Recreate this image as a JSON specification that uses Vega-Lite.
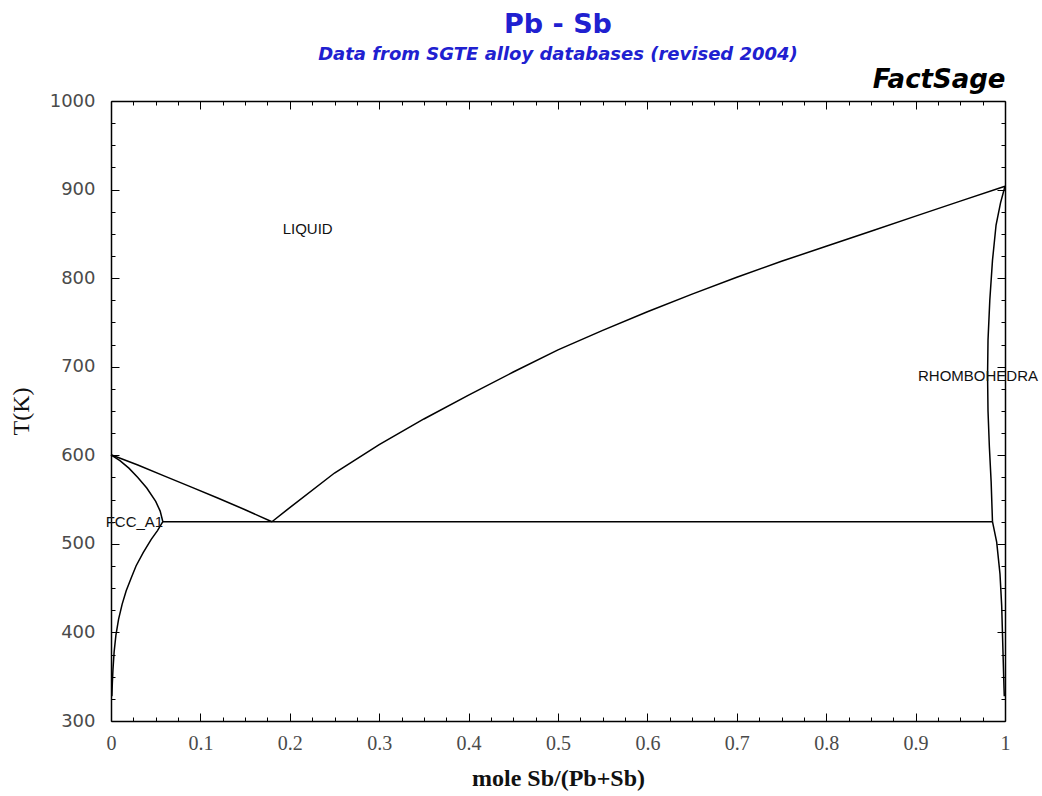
{
  "$schema": "https://vega.github.io/schema/vega-lite/v6.json",
  "width": 894,
  "height": 620,
  "autosize": {"type": "none"},
  "padding": {"left": 111, "top": 101, "right": 37, "bottom": 75},
  "background": "white",
  "title": {
    "text": "Pb - Sb",
    "subtitle": "Data from SGTE alloy databases (revised 2004)",
    "anchor": "middle",
    "frame": "group",
    "font": "DejaVu Sans",
    "fontSize": 27,
    "fontWeight": "bold",
    "color": "#2020d0",
    "subtitleFont": "DejaVu Sans",
    "subtitleFontSize": 18,
    "subtitleFontWeight": "bold",
    "subtitleFontStyle": "italic",
    "subtitleColor": "#2020d0",
    "subtitlePadding": 7,
    "offset": 2
  },
  "datasets": {
    "lines": [
      {"s": "lp", "o": 1, "x": 0, "T": 600.6},
      {"s": "lp", "o": 2, "x": 0.03, "T": 589},
      {"s": "lp", "o": 3, "x": 0.06, "T": 576.5},
      {"s": "lp", "o": 4, "x": 0.09, "T": 564},
      {"s": "lp", "o": 5, "x": 0.12, "T": 551.5},
      {"s": "lp", "o": 6, "x": 0.15, "T": 538.5},
      {"s": "lp", "o": 7, "x": 0.18, "T": 525},
      {"s": "ls", "o": 1, "x": 0.18, "T": 525},
      {"s": "ls", "o": 2, "x": 0.2, "T": 541},
      {"s": "ls", "o": 3, "x": 0.25, "T": 580},
      {"s": "ls", "o": 4, "x": 0.3, "T": 612},
      {"s": "ls", "o": 5, "x": 0.35, "T": 641},
      {"s": "ls", "o": 6, "x": 0.4, "T": 668},
      {"s": "ls", "o": 7, "x": 0.45, "T": 694},
      {"s": "ls", "o": 8, "x": 0.5, "T": 719},
      {"s": "ls", "o": 9, "x": 0.55, "T": 741},
      {"s": "ls", "o": 10, "x": 0.6, "T": 762},
      {"s": "ls", "o": 11, "x": 0.65, "T": 782},
      {"s": "ls", "o": 12, "x": 0.7, "T": 801},
      {"s": "ls", "o": 13, "x": 0.75, "T": 819},
      {"s": "ls", "o": 14, "x": 0.8, "T": 836},
      {"s": "ls", "o": 15, "x": 0.85, "T": 853},
      {"s": "ls", "o": 16, "x": 0.9, "T": 870},
      {"s": "ls", "o": 17, "x": 0.95, "T": 887},
      {"s": "ls", "o": 18, "x": 1, "T": 903.8},
      {"s": "fs", "o": 1, "x": 0, "T": 600.6},
      {"s": "fs", "o": 2, "x": 0.01, "T": 594},
      {"s": "fs", "o": 3, "x": 0.02, "T": 585.5},
      {"s": "fs", "o": 4, "x": 0.03, "T": 575},
      {"s": "fs", "o": 5, "x": 0.04, "T": 563},
      {"s": "fs", "o": 6, "x": 0.05, "T": 548},
      {"s": "fs", "o": 7, "x": 0.055, "T": 537},
      {"s": "fs", "o": 8, "x": 0.058, "T": 525},
      {"s": "fv", "o": 1, "x": 0.058, "T": 525},
      {"s": "fv", "o": 2, "x": 0.052, "T": 515},
      {"s": "fv", "o": 3, "x": 0.045, "T": 505},
      {"s": "fv", "o": 4, "x": 0.036, "T": 490},
      {"s": "fv", "o": 5, "x": 0.028, "T": 475},
      {"s": "fv", "o": 6, "x": 0.0228, "T": 462},
      {"s": "fv", "o": 7, "x": 0.017, "T": 447},
      {"s": "fv", "o": 8, "x": 0.0125, "T": 432},
      {"s": "fv", "o": 9, "x": 0.0085, "T": 415},
      {"s": "fv", "o": 10, "x": 0.0055, "T": 397},
      {"s": "fv", "o": 11, "x": 0.0035, "T": 378},
      {"s": "fv", "o": 12, "x": 0.0022, "T": 358},
      {"s": "fv", "o": 13, "x": 0.0015, "T": 343},
      {"s": "fv", "o": 14, "x": 0.001, "T": 328},
      {"s": "rs", "o": 1, "x": 1, "T": 903.8},
      {"s": "rs", "o": 2, "x": 0.995, "T": 885},
      {"s": "rs", "o": 3, "x": 0.99, "T": 860},
      {"s": "rs", "o": 4, "x": 0.986, "T": 820},
      {"s": "rs", "o": 5, "x": 0.983, "T": 775},
      {"s": "rs", "o": 6, "x": 0.981, "T": 730},
      {"s": "rs", "o": 7, "x": 0.9805, "T": 690},
      {"s": "rs", "o": 8, "x": 0.981, "T": 650},
      {"s": "rs", "o": 9, "x": 0.9825, "T": 610},
      {"s": "rs", "o": 10, "x": 0.9845, "T": 570},
      {"s": "rs", "o": 11, "x": 0.986, "T": 525},
      {"s": "rv", "o": 1, "x": 0.986, "T": 525},
      {"s": "rv", "o": 2, "x": 0.9907, "T": 502},
      {"s": "rv", "o": 3, "x": 0.9944, "T": 466},
      {"s": "rv", "o": 4, "x": 0.9963, "T": 430},
      {"s": "rv", "o": 5, "x": 0.998, "T": 369},
      {"s": "rv", "o": 6, "x": 0.9989, "T": 337},
      {"s": "rv", "o": 7, "x": 0.9992, "T": 328},
      {"s": "eu", "o": 1, "x": 0.058, "T": 525},
      {"s": "eu", "o": 2, "x": 0.986, "T": 525}
    ],
    "labels": [
      {"t": "LIQUID", "x": 0.192, "T": 856},
      {"t": "FCC_A1", "x": -0.006, "T": 525},
      {"t": "RHOMBOHEDRA", "x": 0.9027, "T": 689}
    ]
  },
  "resolve": {"axis": {"x": "independent", "y": "independent"}},
  "layer": [
    {
      "data": {"name": "lines"},
      "mark": {"type": "line", "color": "black", "strokeWidth": 1.5},
      "encoding": {
        "x": {
          "field": "x", "type": "quantitative",
          "scale": {"domain": [0, 1], "nice": false, "zero": false},
          "axis": {
            "orient": "bottom",
            "values": [0,0.025,0.05,0.075,0.1,0.125,0.15,0.175,0.2,0.225,0.25,0.275,0.3,0.325,0.35,0.375,0.4,0.425,0.45,0.475,0.5,0.525,0.55,0.575,0.6,0.625,0.65,0.675,0.7,0.725,0.75,0.775,0.8,0.825,0.85,0.875,0.9,0.925,0.95,0.975,1],
            "tickSize": {"condition": {"test": "abs(datum.value*10 - round(datum.value*10)) < 0.000001", "value": -8}, "value": -4},
            "labelExpr": "abs(datum.value*10 - round(datum.value*10)) < 0.000001 ? format(datum.value, '~g') : ''",
            "labelPadding": 20,
            "labelFont": "Liberation Sans Narrow",
            "labelFontSize": 20,
            "labelColor": "#4a4a4a",
            "labelOverlap": false,
            "labelFlush": false,
            "labelBound": false,
            "grid": false,
            "domainColor": "black",
            "domainWidth": 1.5,
            "tickColor": "black",
            "tickWidth": 1,
            "title": "mole Sb/(Pb+Sb)",
            "titleFont": "Liberation Serif",
            "titleFontSize": 24,
            "titleFontWeight": "bold",
            "titleColor": "#111111",
            "titlePadding": 9
          }
        },
        "y": {
          "field": "T", "type": "quantitative",
          "scale": {"domain": [300, 1000], "nice": false, "zero": false},
          "axis": {
            "orient": "left",
            "values": [300,325,350,375,400,425,450,475,500,525,550,575,600,625,650,675,700,725,750,775,800,825,850,875,900,925,950,975,1000],
            "tickSize": {"condition": {"test": "datum.value % 100 === 0", "value": -8}, "value": -4},
            "labelExpr": "datum.value % 100 === 0 ? format(datum.value, 'd') : ''",
            "labelPadding": 24,
            "labelFont": "DejaVu Sans",
            "labelFontSize": 18,
            "labelColor": "#4a4a4a",
            "labelOverlap": false,
            "labelFlush": false,
            "labelBound": false,
            "grid": false,
            "domainColor": "black",
            "domainWidth": 1.5,
            "tickColor": "black",
            "tickWidth": 1,
            "title": "T(K)",
            "titleFont": "Liberation Serif",
            "titleFontSize": 24,
            "titleFontWeight": "normal",
            "titleColor": "#111111",
            "titlePadding": 16
          }
        },
        "detail": {"field": "s", "type": "nominal"},
        "order": {"field": "o", "type": "quantitative"}
      }
    },
    {
      "data": {"name": "labels"},
      "mark": {"type": "text", "align": "left", "baseline": "middle", "font": "Liberation Sans", "fontSize": 15, "color": "#111111"},
      "encoding": {
        "x": {
          "field": "x", "type": "quantitative",
          "scale": {"domain": [0, 1], "nice": false, "zero": false},
          "axis": {
            "orient": "top",
            "values": [0,0.025,0.05,0.075,0.1,0.125,0.15,0.175,0.2,0.225,0.25,0.275,0.3,0.325,0.35,0.375,0.4,0.425,0.45,0.475,0.5,0.525,0.55,0.575,0.6,0.625,0.65,0.675,0.7,0.725,0.75,0.775,0.8,0.825,0.85,0.875,0.9,0.925,0.95,0.975,1],
            "tickSize": {"condition": {"test": "abs(datum.value*10 - round(datum.value*10)) < 0.000001", "value": -8}, "value": -4},
            "labels": false,
            "grid": false,
            "domainColor": "black",
            "domainWidth": 1.5,
            "tickColor": "black",
            "tickWidth": 1,
            "title": "FactSage",
            "titleFont": "DejaVu Sans",
            "titleFontSize": 26,
            "titleFontWeight": "bold",
            "titleFontStyle": "italic",
            "titleColor": "black",
            "titleAnchor": "end",
            "titleAlign": "right",
            "titleBaseline": "alphabetic",
            "titlePadding": 13
          }
        },
        "y": {
          "field": "T", "type": "quantitative",
          "scale": {"domain": [300, 1000], "nice": false, "zero": false},
          "axis": {
            "orient": "right",
            "values": [300,325,350,375,400,425,450,475,500,525,550,575,600,625,650,675,700,725,750,775,800,825,850,875,900,925,950,975,1000],
            "tickSize": {"condition": {"test": "datum.value % 100 === 0", "value": -8}, "value": -4},
            "labels": false,
            "grid": false,
            "domainColor": "black",
            "domainWidth": 1.5,
            "tickColor": "black",
            "tickWidth": 1,
            "title": null
          }
        },
        "text": {"field": "t", "type": "nominal"}
      }
    }
  ],
  "config": {"view": {"stroke": null}}
}
